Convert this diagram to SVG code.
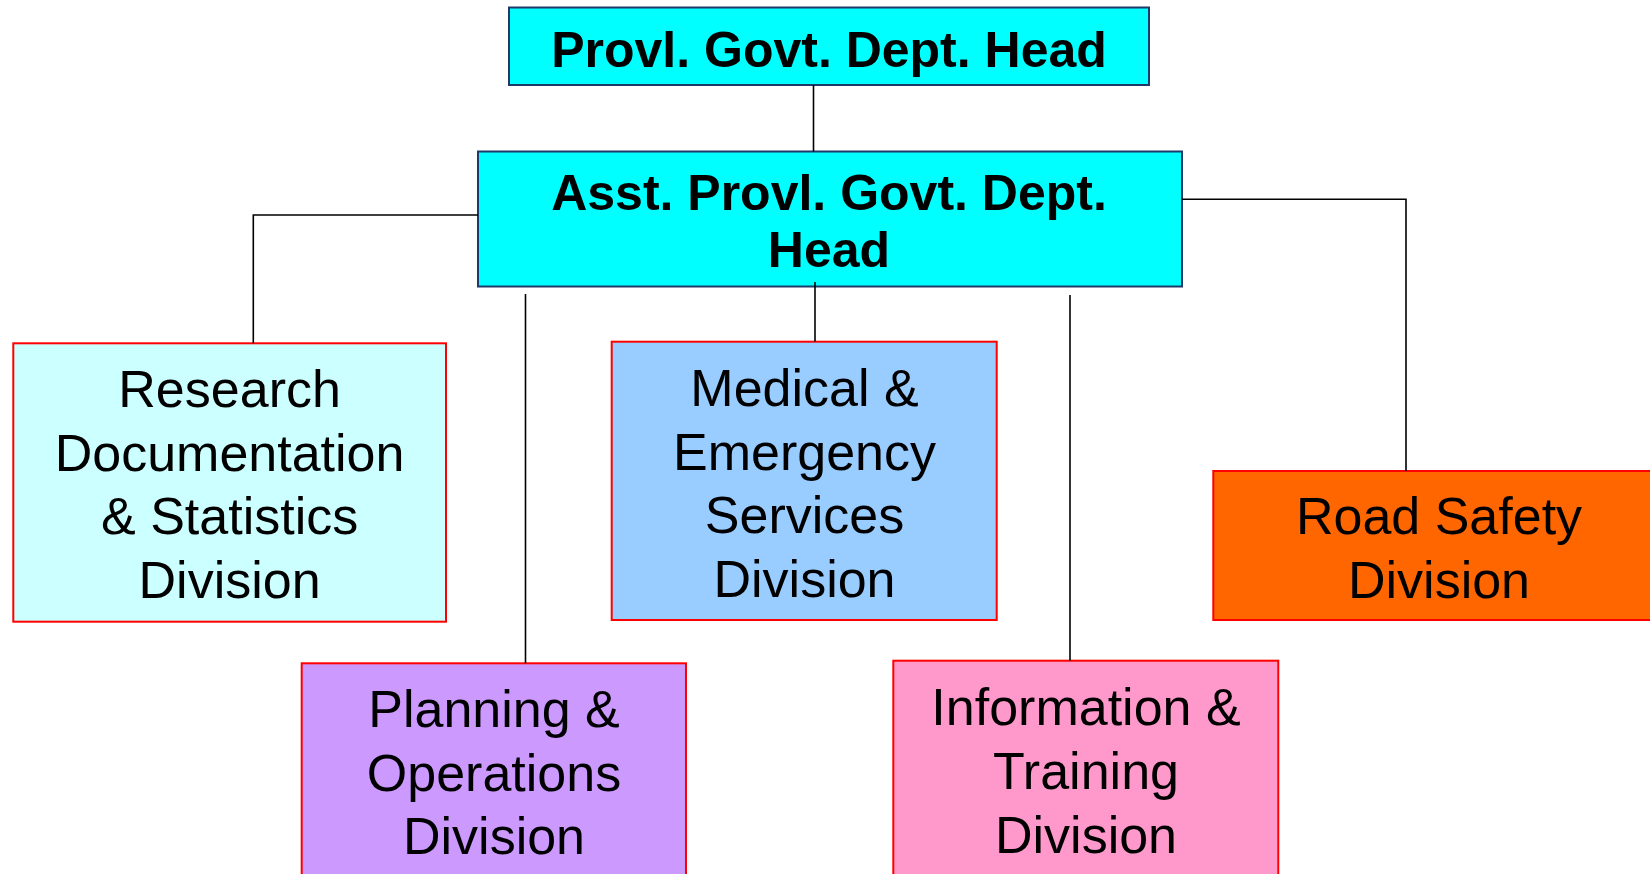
<svg xmlns="http://www.w3.org/2000/svg" width="1650" height="874" viewBox="0 0 1650 874">
<style>
.head{fill:#00FFFF;stroke:#1F3A68;stroke-width:2}
.div{stroke:#FF0000;stroke-width:2}
.tb{font-family:"Liberation Sans",Arial,sans-serif;font-weight:bold;font-size:50px;fill:#000;text-anchor:middle}
.t{font-family:"Liberation Sans",Arial,sans-serif;font-size:52px;fill:#000;text-anchor:middle}
.c{fill:none;stroke:#000;stroke-width:1.6}
</style>
<rect width="1650" height="874" fill="#fff"/>
<g id="provl-head">
<rect class="head" x="509" y="7.5" width="640" height="77.5"/>
<text class="tb" x="829" y="67">Provl. Govt. Dept. Head</text>
</g>
<g id="asst-head">
<rect class="head" x="478" y="151.5" width="704" height="135"/>
<text class="tb" x="829" y="210">Asst. Provl. Govt. Dept.</text>
<text class="tb" x="829" y="266.5">Head</text>
</g>
<g id="research">
<rect class="div" x="13.3" y="343.3" width="432.7" height="278.4" fill="#CCFFFF"/>
<text class="t" x="229.6" y="406.7">Research</text>
<text class="t" x="229.6" y="470.5">Documentation</text>
<text class="t" x="229.6" y="534.3">&amp; Statistics</text>
<text class="t" x="229.6" y="598">Division</text>
</g>
<g id="medical">
<rect class="div" x="611.7" y="341.7" width="385" height="278.3" fill="#99CCFF"/>
<text class="t" x="804.5" y="406">Medical &amp;</text>
<text class="t" x="804.5" y="469.5">Emergency</text>
<text class="t" x="804.5" y="533.2">Services</text>
<text class="t" x="804.5" y="596.8">Division</text>
</g>
<g id="road-safety">
<rect class="div" x="1213.3" y="471" width="452" height="149" fill="#FF6600"/>
<text class="t" x="1439" y="534.3">Road Safety</text>
<text class="t" x="1439" y="598.3">Division</text>
</g>
<g id="planning">
<rect class="div" x="301.7" y="663.3" width="384.3" height="225" fill="#CC99FF"/>
<text class="t" x="494" y="727.3">Planning &amp;</text>
<text class="t" x="494" y="790.7">Operations</text>
<text class="t" x="494" y="854">Division</text>
</g>
<g id="information">
<rect class="div" x="893.3" y="660.7" width="385" height="225" fill="#FF99CC"/>
<text class="t" x="1086" y="725">Information &amp;</text>
<text class="t" x="1086" y="789">Training</text>
<text class="t" x="1086" y="852.5">Division</text>
</g>
<g id="connectors">
<path class="c" d="M813.5 85 V151.5"/>
<path class="c" d="M478 215 H253.3 V343.3"/>
<path class="c" d="M1182 199.3 H1406 V471"/>
<path class="c" d="M815 282 V341.7"/>
<path class="c" d="M525.5 294 V663.3"/>
<path class="c" d="M1070 295 V660.7"/>
</g>
</svg>
